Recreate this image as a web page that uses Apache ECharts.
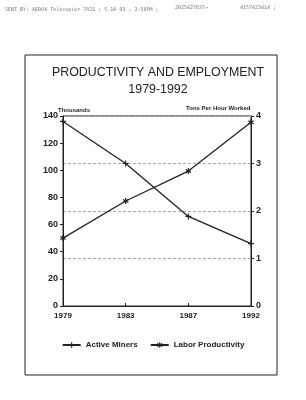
<!DOCTYPE html>
<html>
<head>
<meta charset="utf-8">
<script src="https://cdn.jsdelivr.net/npm/echarts@6/dist/echarts.min.js"></script>
<style>
  html, body { margin: 0; padding: 0; background: #fff; }
  #chart { width: 306px; height: 400px; }
</style>
</head>
<body>
<div id="chart"></div>
<script>
// data
const years = ['1979', '1983', '1987', '1992'];
const activeMiners = [136, 105, 66, 46];          // thousands (left axis)
const laborProductivity = [1.43, 2.21, 2.84, 3.87]; // tons per hour worked (right axis)
const leftTicks = [0, 20, 40, 60, 80, 100, 120, 140];
const rightTicks = [0, 1, 2, 3, 4];

const ink = '#222';
const font = 'Liberation Sans, Arial, sans-serif';

const plusSymbol = 'path://M4,0H6V4H10V6H6V10H4V6H0V4H4Z';
const starSymbol = 'path://M4,0H6V3.3L8.9,1.6L9.9,3.3L7,5L9.9,6.7L8.9,8.4L6,6.7V10H4V6.7L1.1,8.4L0.1,6.7L3,5L0.1,3.3L1.1,1.6L4,3.3Z';

const chart = echarts.init(document.getElementById('chart'), null, { renderer: 'canvas' });

const option = {
  backgroundColor: '#fff',
  animation: false,
  title: {
    text: 'PRODUCTIVITY AND EMPLOYMENT\n1979-1992',
    left: 153,
    top: 59,
    textAlign: 'center',
    textStyle: {
      fontFamily: font,
      fontSize: 12.4,
      fontWeight: 'normal',
      color: ink,
      lineHeight: 17
    }
  },
  legend: {
    bottom: 46,
    left: 'center',
    itemWidth: 18,
    itemHeight: 7,
    itemGap: 12,
    textStyle: { fontFamily: font, fontSize: 8, fontWeight: 'bold', color: ink },
    data: ['Active Miners', 'Labor Productivity']
  },
  grid: {
    left: 63,
    right: 55,
    top: 116,
    bottom: 94,
    show: true,
    borderColor: ink,
    borderWidth: 1
  },
  xAxis: {
    type: 'category',
    data: years,
    boundaryGap: false,
    axisLine: { lineStyle: { color: ink, width: 1 } },
    axisTick: { inside: true, length: 3, lineStyle: { color: ink } },
    axisLabel: { fontFamily: font, fontSize: 8, fontWeight: 'bold', color: ink, margin: 6 }
  },
  yAxis: [
    {
      type: 'value',
      min: leftTicks[0],
      max: leftTicks[leftTicks.length - 1],
      interval: 20,
      axisLine: { show: true, lineStyle: { color: ink } },
      axisTick: { show: true, length: 3, lineStyle: { color: ink } },
      axisLabel: { fontFamily: font, fontSize: 9, fontWeight: 'bold', color: ink, margin: 5 },
      splitLine: { show: false }
    },
    {
      type: 'value',
      min: rightTicks[0],
      max: rightTicks[rightTicks.length - 1],
      interval: 1,
      position: 'right',
      axisLine: { show: true, lineStyle: { color: ink } },
      axisTick: { show: true, length: 3, lineStyle: { color: ink } },
      axisLabel: { fontFamily: font, fontSize: 9, fontWeight: 'bold', color: ink, margin: 5 },
      splitLine: { show: true, lineStyle: { color: '#aaa', type: [3, 2], width: 1 } }
    }
  ],
  series: [
    {
      name: 'Active Miners',
      type: 'line',
      yAxisIndex: 0,
      data: activeMiners,
      symbol: plusSymbol,
      symbolSize: 6,
      showAllSymbol: true,
      lineStyle: { color: ink, width: 1.3 },
      itemStyle: { color: ink }
    },
    {
      name: 'Labor Productivity',
      type: 'line',
      yAxisIndex: 1,
      data: laborProductivity,
      symbol: starSymbol,
      symbolSize: 6,
      showAllSymbol: true,
      lineStyle: { color: ink, width: 1.3 },
      itemStyle: { color: ink }
    }
  ],
  graphic: [
    // outer frame of the printed page
    {
      type: 'rect',
      shape: { x: 25, y: 55, width: 252, height: 320 },
      style: { fill: 'none', stroke: ink, lineWidth: 1 }
    },
    {
      type: 'text',
      left: 58,
      top: 107,
      style: { text: 'Thousands', fontFamily: font, fontSize: 6, fontWeight: 'bold', fill: ink }
    },
    {
      type: 'text',
      left: 186,
      top: 105,
      style: { text: 'Tons Per Hour Worked', fontFamily: font, fontSize: 6, fontWeight: 'bold', fill: ink }
    },
    // fax header line
    {
      type: 'text',
      left: 5,
      top: 7,
      style: { text: 'SENT BY: XEROX Telecopier 7021 ; 5-10-93 ; 2:58PM ;', fontFamily: 'DejaVu Sans Mono, monospace', fontSize: 5, fill: '#777' }
    },
    {
      type: 'text',
      left: 175,
      top: 5,
      style: { text: '2025427837\u2192', fontFamily: 'DejaVu Sans Mono, monospace', fontSize: 5, fill: '#777' }
    },
    {
      type: 'text',
      left: 240,
      top: 5,
      style: { text: '4157423414 ;', fontFamily: 'DejaVu Sans Mono, monospace', fontSize: 5, fill: '#777' }
    }
  ]
};

chart.setOption(option);
</script>
</body>
</html>
